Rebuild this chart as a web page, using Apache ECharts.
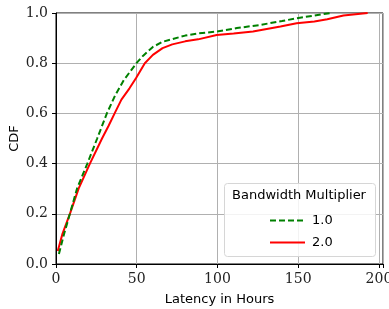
<!DOCTYPE html>
<html>
<head>
<meta charset="utf-8">
<script src="https://cdn.jsdelivr.net/npm/echarts@6/dist/echarts.min.js"></script>
<style>
html,body{margin:0;padding:0;background:#fff;}
#chart{width:389px;height:309px;}
</style>
</head>
<body>
<div id="chart"></div>
<script>
// CDF curves: [latency hours, cdf]
var seriesNames = ['1.0', '2.0'];
var mult1 = [[1.8,0.04],[5,0.12],[8.6,0.2],[13,0.3],[19.4,0.4],[25.5,0.5],[31.5,0.6],[36.5,0.67],[42,0.733],[49.8,0.8],[54,0.83],[60,0.865],[66,0.885],[72,0.896],[80,0.91],[88,0.919],[99.5,0.926],[112,0.94],[126,0.952],[140,0.968],[149,0.979],[160,0.99],[170,1.0]];
var mult2 = [[1.1,0.052],[4,0.12],[8.6,0.2],[14,0.3],[21,0.4],[28.5,0.5],[32.5,0.55],[36.3,0.6],[40.5,0.655],[45.5,0.7],[49.5,0.74],[55,0.8],[60,0.833],[66,0.86],[72,0.875],[80,0.887],[88,0.895],[99.5,0.912],[110,0.918],[122,0.926],[139,0.946],[149,0.959],[160,0.966],[168,0.975],[178,0.99],[193,1.0]];
var xTicks = [0, 50, 100, 150, 200];
var yTicks = [0, 0.2, 0.4, 0.6, 0.8, 1.0];

var serif = "'DejaVu Serif', serif";
var sans = "'DejaVu Sans', sans-serif";

var chart = echarts.init(document.getElementById('chart'), null, {renderer: 'canvas'});

var option = {
    animation: false,
    grid: {
        left: 56, right: 6, top: 13, bottom: 45,
        outerBoundsMode: 'none',
        containLabel: false,
        show: true, borderColor: '#000', borderWidth: 1
    },
    xAxis: {
        type: 'value',
        min: 0, max: 202.5,
        interval: 50,
        name: 'Latency in Hours',
        nameLocation: 'middle',
        nameGap: 29,
        nameTextStyle: {fontFamily: sans, fontSize: 13, color: '#000'},
        axisLine: {show: true, onZero: false, lineStyle: {color: '#000'}},
        axisTick: {show: true, length: 4, lineStyle: {color: '#000'}},
        axisLabel: {
            fontFamily: serif, fontSize: 14, color: '#222', margin: 8,
            showMaxLabel: true,
            formatter: function (v) { return xTicks.indexOf(v) > -1 ? String(v) : ''; }
        },
        splitLine: {show: true, lineStyle: {color: '#b0b0b0', width: 1}}
    },
    yAxis: {
        type: 'value',
        min: 0, max: 1, interval: 0.2,
        name: 'CDF',
        nameLocation: 'middle',
        nameGap: 35,
        nameMoveOverlap: false,
        nameTextStyle: {fontFamily: sans, fontSize: 13, color: '#000'},
        axisLine: {show: true, lineStyle: {color: '#000'}},
        axisTick: {show: true, length: 4, lineStyle: {color: '#000'}},
        axisLabel: {
            fontFamily: serif, fontSize: 14, color: '#222', margin: 8,
            formatter: function (v) { return v.toFixed(1); }
        },
        splitLine: {show: true, lineStyle: {color: '#b0b0b0', width: 1}}
    },
    legend: {
        orient: 'vertical',
        left: 264, top: 209,
        z: 60,
        itemWidth: 35, itemHeight: 10, itemGap: 9,
        data: seriesNames,
        itemStyle: {opacity: 0},
        textStyle: {fontFamily: sans, fontSize: 13, color: '#000', padding: [0, 0, 0, 2]}
    },
    graphic: [
        {
            type: 'rect', z: 50,
            shape: {x: 224.5, y: 183.5, width: 151, height: 73, r: 3},
            style: {fill: 'rgba(255,255,255,0.85)', stroke: '#d6d6d6', lineWidth: 1}
        },
        {
            type: 'text', z: 51,
            x: 299, y: 196,
            style: {text: 'Bandwidth Multiplier', font: '13px ' + sans, fill: '#000',
                    textAlign: 'center', textVerticalAlign: 'middle'}
        }
    ],
    series: [
        {
            name: seriesNames[0], type: 'line', data: mult1,
            symbol: 'none', smooth: false, z: 3,
            lineStyle: {color: '#008000', width: 2, type: [6, 3]},
            itemStyle: {color: '#008000'}
        },
        {
            name: seriesNames[1], type: 'line', data: mult2,
            symbol: 'none', smooth: false, z: 2,
            lineStyle: {color: '#ff0000', width: 2},
            itemStyle: {color: '#ff0000'}
        }
    ]
};
chart.setOption(option);
</script>
</body>
</html>
